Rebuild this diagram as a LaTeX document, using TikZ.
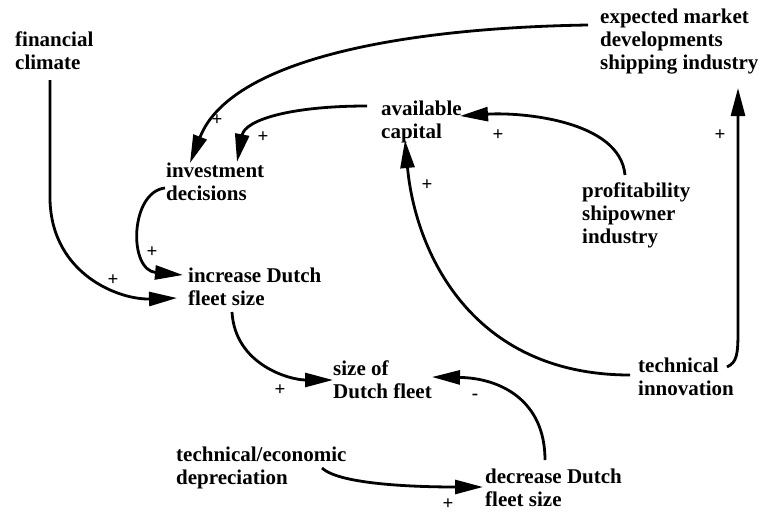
\documentclass[tikz,border=0pt]{standalone}
\usepackage{fontspec}
\setmainfont{Liberation Serif}
\usetikzlibrary{arrows.meta,calc}
\begin{document}
\begin{tikzpicture}[x=1pt,y=-1pt,
  lbl/.style={anchor=base west,inner sep=0pt,align=left,font=\bfseries\fontsize{21}{23}\selectfont},
  sgn/.style={inner sep=0pt,font=\bfseries\fontsize{19}{19}\selectfont},
  link/.style={line width=2.8pt,-{Triangle[length=28pt,width=14pt]}}]
\useasboundingbox (0,0) rectangle (765,514);
\fill[white] (0,0) rectangle (765,514);
% nodes (anchored at the baseline of their last line)
\node[lbl] (fc) at (15,69) {financial\\climate};
\node[lbl] (inv) at (166,200) {investment\\decisions};
\node[lbl] (ac) at (381,138) {available\\capital};
\node[lbl] (em) at (600,69) {expected market\\developments\\shipping industry};
\node[lbl] (pr) at (582,243) {profitability\\shipowner\\industry};
\node[lbl] (inc) at (188,305) {increase Dutch\\fleet size};
\node[lbl] (sz) at (333,398) {size of\\Dutch fleet};
\node[lbl] (ti) at (638,395) {technical\\innovation};
\node[lbl] (dep) at (176,484) {technical/economic\\depreciation};
\node[lbl] (dec) at (485,506) {decrease Dutch\\fleet size};
% connectors
\draw[link] ($(fc.base west)+(35,11)$) -- (50,200) .. controls (52,275) and (120,300) .. ($(inc.base west)+(-11,-7)$);
\draw[link] ($(inv.base west)+(-1,-12)$) .. controls (130,192) and (128,270) .. ($(inc.base west)+(-5,-30)$);
\draw[link] ($(em.base west)+(-12,-44)$) .. controls (400,28) and (230,60) .. ($(inv.base west)+(24,-37)$);
\draw[link] ($(ac.base west)+(-14,-32)$) .. controls (290,106) and (245,120) .. ($(inv.base west)+(71,-38)$);
\draw[link] ($(pr.base west)+(43,-68)$) .. controls (620,120) and (520,112) .. ($(ac.base west)+(79,-22)$);
\draw[link] ($(ti.base west)+(-8,-20)$) .. controls (470,375) and (415,250) .. ($(ac.base west)+(24,2)$);
\draw[link] ($(ti.base west)+(89,-28)$) .. controls (737,362) and (738,355) .. (738,330) -- ($(em.base west)+(138,19)$);
\draw[link] ($(inc.base west)+(44,7)$) .. controls (235,365) and (290,380) .. ($(sz.base west)+(0,-18)$);
\draw[link] ($(dec.base west)+(60,-46)$) .. controls (545,400) and (500,378) .. ($(sz.base west)+(99,-21)$);
\draw[link] ($(dep.base west)+(146,-16)$) .. controls (340,485) and (420,487) .. ($(dec.base west)+(-2,-19)$);
% signs
\node[sgn] (s1) at (217,120) {+};
\node[sgn] (s2) at (263,137) {+};
\node[sgn] (s3) at (152,252) {+};
\node[sgn] (s4) at (113,280) {+};
\node[sgn] (s5) at (498,135) {+};
\node[sgn] (s6) at (427,185) {+};
\node[sgn] (s7) at (720,135) {+};
\node[sgn] (s8) at (280,390) {+};
\node[sgn] (s9) at (475,397) {-};
\node[sgn] (s10) at (448,504) {+};
\end{tikzpicture}
\end{document}
